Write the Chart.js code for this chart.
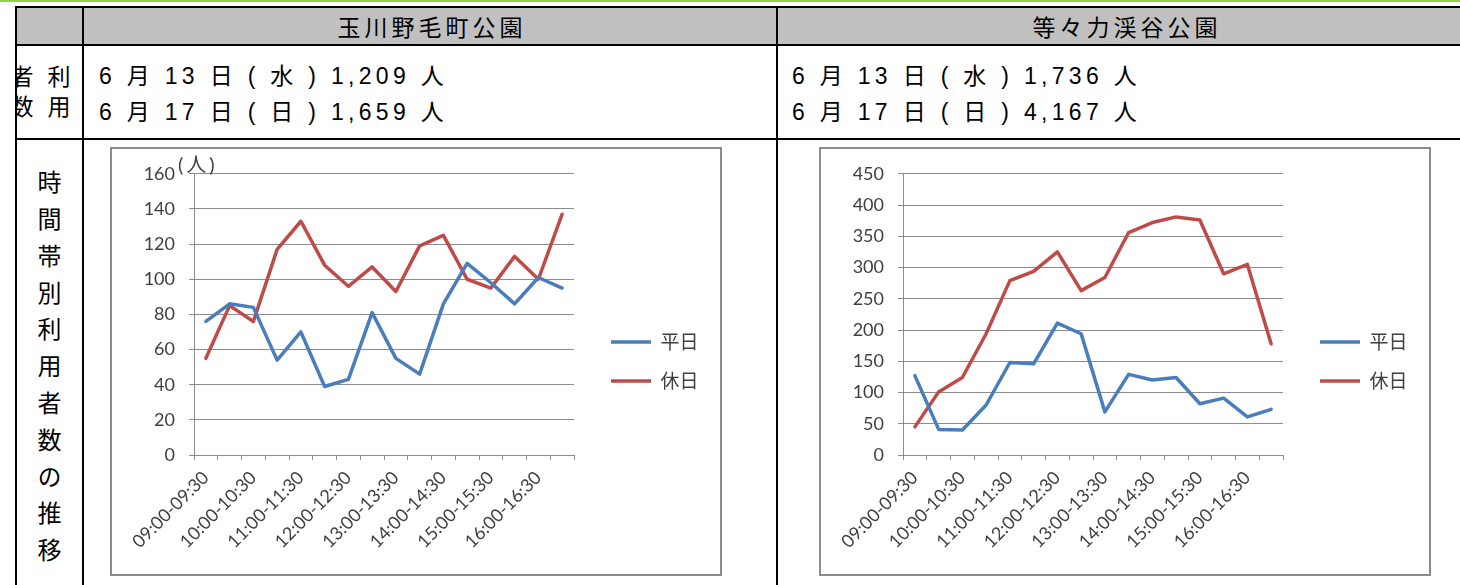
<!DOCTYPE html>
<html lang="ja">
<head>
<meta charset="utf-8">
<script src="https://cdn.jsdelivr.net/npm/chart.js@4.4.1/dist/chart.umd.min.js"></script>
<style>
html,body{margin:0;padding:0;background:#fff;}
body{width:1460px;height:585px;position:relative;overflow:hidden;font-family:"Liberation Sans","Noto Sans CJK JP",sans-serif;color:#000;}
.abs{position:absolute;}
#topbar{left:0;top:0;width:1460px;height:2px;background:#92d050;}
#frame{left:15px;top:6px;width:1500px;height:700px;border:2px solid #000;box-sizing:border-box;}
#hdr{left:17px;top:8px;width:1500px;height:36px;background:#c0c0c0;}
.hl{left:15px;width:1500px;height:2px;background:#000;}
.vl{top:6px;width:2px;height:600px;background:#000;}
.head{top:8px;height:36px;display:flex;align-items:center;justify-content:center;font-family:"Noto Sans CJK JP",sans-serif;font-size:23px;letter-spacing:4px;padding-left:4px;box-sizing:border-box;}
.counts{top:58px;font-size:23px;line-height:36px;letter-spacing:4.3px;white-space:nowrap;}
.vclip{left:15px;top:46px;width:67px;height:92px;overflow:hidden;z-index:2;}
.vtext{writing-mode:vertical-rl;font-family:"Noto Sans CJK JP",sans-serif;white-space:nowrap;}
.box{top:147px;width:608px;height:425px;border:2px solid #8c8c8c;background:#fff;}
.box canvas{display:block;}
</style>
</head>
<body>
<div id="topbar" class="abs"></div>
<div id="hdr" class="abs"></div>
<div id="frame" class="abs"></div>
<div class="abs hl" style="top:44px"></div>
<div class="abs hl" style="top:138px"></div>
<div class="abs vl" style="left:82px"></div>
<div class="abs vl" style="left:776px"></div>

<div class="abs head" style="left:84px;width:692px">玉川野毛町公園</div>
<div class="abs head" style="left:778px;width:694px">等々力渓谷公園</div>

<div class="abs vclip"><div class="abs vtext" style="left:-12px;top:19px;font-size:23px;line-height:37px;letter-spacing:7px;">利用<br>者数</div></div>
<div class="abs counts" style="left:99px">6 月 13 日 ( 水 ) 1,209 人<br>6 月 17 日 ( 日 ) 1,659 人</div>
<div class="abs counts" style="left:792px">6 月 13 日 ( 水 ) 1,736 人<br>6 月 17 日 ( 日 ) 4,167 人</div>

<div class="abs vtext" style="left:34px;top:170px;width:30px;font-size:24px;line-height:30px;letter-spacing:12.8px;">時間帯別利用者数の推移</div>

<div class="abs box" style="left:110px"><canvas id="chartTamagawa" width="608" height="425"></canvas></div>
<div class="abs box" style="left:819px"><canvas id="chartTodoroki" width="608" height="425"></canvas></div>

<script>
// Half-hour time slots (every other one is labelled on the axis)
const slots = [
  '09:00-09:30', '09:30-10:00', '10:00-10:30', '10:30-11:00',
  '11:00-11:30', '11:30-12:00', '12:00-12:30', '12:30-13:00',
  '13:00-13:30', '13:30-14:00', '14:00-14:30', '14:30-15:00',
  '15:00-15:30', '15:30-16:00', '16:00-16:30', '16:30-17:00'
];
const seriesNames = ['平日', '休日'];

// 玉川野毛町公園: visitors per slot
const tamagawaWeekday = [76, 86, 84, 54, 70, 39, 43, 81, 55, 46, 86, 109, 98, 86, 101, 95];
const tamagawaHoliday = [55, 85, 76, 117, 133, 108, 96, 107, 93, 119, 125, 100, 95, 113, 100, 137];

// 等々力渓谷公園: visitors per slot
const todorokiWeekday = [127, 41, 40, 80, 148, 146, 211, 194, 69, 129, 120, 124, 82, 91, 61, 73];
const todorokiHoliday = [45, 101, 124, 194, 279, 294, 325, 263, 284, 356, 372, 381, 376, 290, 305, 178];

Chart.defaults.font.family = 'Lato, "Noto Sans CJK JP", sans-serif';

// Small unit caption above the value axis
const unitLabel = {
  id: 'unitLabel',
  afterDraw(chart, args, opts) {
    if (!opts.text) return;
    const {ctx, chartArea} = chart;
    ctx.save();
    ctx.font = '20px Lato, "Noto Sans CJK JP"';
    ctx.letterSpacing = '3px';
    ctx.fillStyle = '#404040';
    ctx.textBaseline = 'bottom';
    ctx.textAlign = 'left';
    ctx.fillText(opts.text, chartArea.left - 16, chartArea.top + 2);
    ctx.restore();
  }
};

function buildChart(id, weekday, holiday, yMax, yStep, unit) {
  const grey = '#8c8c8c';
  const text = '#404040';
  return new Chart(document.getElementById(id), {
    type: 'line',
    data: {
      labels: slots,
      datasets: [
        { label: seriesNames[0], data: weekday, borderColor: '#4a7ebb', backgroundColor: '#4a7ebb' },
        { label: seriesNames[1], data: holiday, borderColor: '#be4b48', backgroundColor: '#be4b48' }
      ]
    },
    options: {
      responsive: false,
      animation: false,
      devicePixelRatio: 1,
      layout: { padding: { left: 0, top: 23, right: 19, bottom: 23 } },
      elements: {
        line: { borderWidth: 3.5, tension: 0, borderJoinStyle: 'round', borderCapStyle: 'round' },
        point: { radius: 0, hoverRadius: 0, borderWidth: 3.5 }
      },
      plugins: {
        legend: {
          position: 'right',
          align: 'center',
          maxWidth: 110,
          labels: {
            usePointStyle: true,
            pointStyle: 'line',
            pointStyleWidth: 40,
            padding: 20,
            color: text,
            font: { size: 19, family: '"Noto Sans CJK JP", sans-serif' }
          }
        },
        tooltip: { enabled: false },
        unitLabel: { text: unit }
      },
      scales: {
        x: {
          offset: true,
          grid: { display: true, drawOnChartArea: false, drawTicks: true, tickLength: 5, offset: true, color: grey },
          border: { display: true, color: grey },
          ticks: {
            autoSkip: false, minRotation: 45, maxRotation: 45, padding: 7,
            color: text, font: { size: 18 },
            callback(v, i) { return i % 2 === 0 ? this.getLabelForValue(v) : ''; }
          },
          afterFit(s) { s.height = 96; }
        },
        y: {
          min: 0, max: yMax,
          ticks: { stepSize: yStep, padding: 14, color: text, font: { size: 18 } },
          grid: { color: grey, tickLength: 5, drawTicks: true },
          border: { display: true, color: grey },
          afterFit(s) { s.width = 82; }
        },
        gap: {
          position: 'right',
          display: true,
          ticks: { display: false },
          grid: { display: false },
          border: { display: false },
          afterFit(s) { s.width = 17; }
        }
      }
    },
    plugins: [unitLabel]
  });
}

buildChart('chartTamagawa', tamagawaWeekday, tamagawaHoliday, 160, 20, '(人)');
buildChart('chartTodoroki', todorokiWeekday, todorokiHoliday, 450, 50, '');
</script>
</body>
</html>
